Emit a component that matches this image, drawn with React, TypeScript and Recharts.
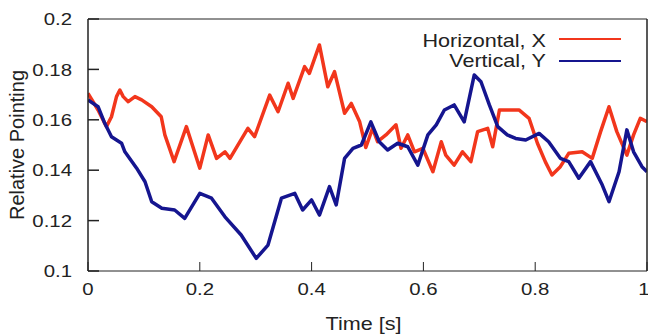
import React from 'react'
import { LineChart, Line, XAxis, YAxis } from 'recharts'

// time [s] and relative pointing
const horizontalTime = [
  0, 0.018, 0.033, 0.042, 0.051, 0.057, 0.063, 0.072, 0.084, 0.096, 0.114, 0.131,
  0.1375, 0.154, 0.176, 0.2, 0.215, 0.23, 0.245, 0.254, 0.286, 0.298, 0.325, 0.34,
  0.358, 0.367, 0.3875, 0.396, 0.414, 0.429, 0.441, 0.459, 0.471, 0.486, 0.497, 0.509,
  0.518, 0.533, 0.551, 0.56, 0.572, 0.584, 0.599, 0.617, 0.632, 0.64, 0.655, 0.67,
  0.685, 0.697, 0.715, 0.724, 0.736, 0.75, 0.771, 0.789, 0.804, 0.818, 0.83, 0.845,
  0.86, 0.884, 0.902, 0.917, 0.932, 0.946, 0.964, 0.976, 0.988, 1,
]
const horizontalValue = [
  0.1705, 0.1639, 0.1573, 0.1612, 0.1692, 0.1718, 0.1692, 0.1672, 0.1692, 0.1679, 0.1652, 0.1612,
  0.154, 0.1434, 0.1573, 0.1408, 0.154, 0.1447, 0.1473, 0.1447, 0.1566, 0.1533, 0.1698, 0.1632,
  0.1745, 0.1685, 0.1811, 0.1784, 0.1897, 0.1731, 0.1791, 0.1626, 0.1665, 0.1592, 0.149, 0.1566,
  0.1513, 0.154, 0.158, 0.1487, 0.154, 0.1473, 0.1487, 0.1394, 0.1513, 0.146, 0.142, 0.1473,
  0.1434, 0.1553, 0.1566, 0.1493, 0.1639, 0.1639, 0.1639, 0.1606, 0.1507, 0.1434, 0.1381, 0.1414,
  0.1467, 0.1473, 0.1447, 0.1553, 0.1652, 0.1553, 0.146, 0.154, 0.1606, 0.1592,
]

const verticalTime = [
  0, 0.018, 0.03, 0.042, 0.06, 0.066, 0.087, 0.102, 0.114, 0.132, 0.155, 0.173,
  0.2, 0.221, 0.245, 0.274, 0.301, 0.322, 0.346, 0.37, 0.384, 0.4, 0.414, 0.432,
  0.444, 0.459, 0.474, 0.489, 0.506, 0.521, 0.536, 0.554, 0.572, 0.59, 0.608, 0.623,
  0.6375, 0.655, 0.673, 0.691, 0.703, 0.718, 0.733, 0.75, 0.765, 0.783, 0.807, 0.824,
  0.845, 0.86, 0.878, 0.899, 0.92, 0.932, 0.95, 0.964, 0.976, 0.991, 1,
]
const verticalValue = [
  0.1679, 0.1652, 0.1586, 0.1533, 0.1507, 0.1473, 0.1408, 0.1354, 0.1275, 0.1249, 0.1242, 0.1209,
  0.1308, 0.1289, 0.1215, 0.1143, 0.105, 0.1103, 0.1289, 0.1308, 0.1242, 0.1282, 0.1222, 0.1335,
  0.1262, 0.1447, 0.1487, 0.15, 0.1592, 0.1513, 0.148, 0.1507, 0.1493, 0.142, 0.154, 0.158,
  0.1639, 0.1659, 0.1592, 0.1778, 0.1751, 0.1659, 0.1573, 0.154, 0.1526, 0.152, 0.1546, 0.1513,
  0.1447, 0.1434, 0.1368, 0.1434, 0.1341, 0.1275, 0.1394, 0.156, 0.1473, 0.1414, 0.1394,
]

const xTicks = [0, 0.2, 0.4, 0.6, 0.8, 1]
const yTicks = [0.1, 0.12, 0.14, 0.16, 0.18, 0.2]

const horizontalData = horizontalTime.map((t, i) => ({ t, v: horizontalValue[i] }))
const verticalData = verticalTime.map((t, i) => ({ t, v: verticalValue[i] }))

const RED = '#f2361c'
const BLUE = '#15158f'
const INK = '#222'
const FONT = '"Liberation Sans", Arial, sans-serif'

const XTick = ({ x, y, payload }: any) => (
  <text
    transform={`translate(${x},${y}) scale(1.2,1)`}
    textAnchor="middle"
    dy="0.72em"
    fontSize={17}
    fontFamily={FONT}
    fill={INK}
  >
    {String(payload.value)}
  </text>
)

const YTick = ({ x, y, payload }: any) => (
  <text
    transform={`translate(${x},${y}) scale(1.2,1)`}
    textAnchor="end"
    dy="0.36em"
    fontSize={17}
    fontFamily={FONT}
    fill={INK}
  >
    {String(Number(payload.value.toFixed(2)))}
  </text>
)

const NoTick = () => <g />

const legendItems = [
  { name: 'Horizontal, X', color: RED },
  { name: 'Vertical, Y', color: BLUE },
]

const LegendBox = () => (
  <svg width={240} height={50} style={{ position: 'absolute', left: 400, top: 26 }}>
    {legendItems.map((item, i) => (
      <g key={item.name}>
        <text
          transform={`translate(146,${21 + i * 20}) scale(1.2,1)`}
          textAnchor="end"
          fontSize={18}
          fontFamily={FONT}
          fill={INK}
        >
          {item.name}
        </text>
        <line x1={159} x2={221} y1={13 + i * 22} y2={13 + i * 22} stroke={item.color} strokeWidth={2} />
      </g>
    ))}
  </svg>
)

export default function App() {
  return (
    <div style={{ position: 'absolute', left: 0, top: 0, width: 648, height: 335, background: '#fff' }}>
      <LineChart width={648} height={335} margin={{ top: 18, right: 0, bottom: 0, left: 0 }}>
        <XAxis
          xAxisId="b"
          type="number"
          dataKey="t"
          domain={[0, 1]}
          ticks={xTicks}
          allowDataOverflow
          height={64}
          stroke={INK}
          tickSize={-9}
          tickMargin={21}
          tick={<XTick />}
          label={({ viewBox }: any) => (
            <text
              transform={`translate(${viewBox.x + viewBox.width / 2 - 4},330) scale(1.2,1)`}
              textAnchor="middle"
              fontSize={18}
              fontFamily={FONT}
              fill={INK}
            >
              Time [s]
            </text>
          )}
        />
        <XAxis
          xAxisId="t"
          orientation="top"
          type="number"
          dataKey="t"
          domain={[0, 1]}
          ticks={xTicks}
          height={1}
          stroke={INK}
          tickSize={-9}
          tick={<NoTick />}
        />
        <YAxis
          yAxisId="l"
          type="number"
          domain={[0.1, 0.2]}
          ticks={yTicks}
          width={88}
          stroke={INK}
          strokeWidth={1.5}
          tickSize={-11}
          tickMargin={27}
          tick={<YTick />}
          label={({ viewBox }: any) => (
            <text
              transform={`translate(24,${viewBox.y + viewBox.height / 2}) rotate(-90)`}
              textAnchor="middle"
              fontSize={20}
              fontFamily={FONT}
              fill={INK}
            >
              Relative Pointing
            </text>
          )}
        />
        <YAxis
          yAxisId="r"
          orientation="right"
          type="number"
          domain={[0.1, 0.2]}
          ticks={yTicks}
          width={1}
          stroke={INK}
          strokeWidth={1.5}
          tickSize={-11}
          tick={<NoTick />}
        />
        <Line
          xAxisId="b"
          yAxisId="l"
          data={horizontalData}
          dataKey="v"
          name="Horizontal, X"
          type="linear"
          stroke={RED}
          strokeWidth={3.5}
          strokeLinejoin="round"
          dot={false}
          activeDot={false}
          isAnimationActive={false}
        />
        <Line
          xAxisId="b"
          yAxisId="l"
          data={verticalData}
          dataKey="v"
          name="Vertical, Y"
          type="linear"
          stroke={BLUE}
          strokeWidth={3.5}
          strokeLinejoin="round"
          dot={false}
          activeDot={false}
          isAnimationActive={false}
        />
      </LineChart>
      <LegendBox />
    </div>
  )
}
